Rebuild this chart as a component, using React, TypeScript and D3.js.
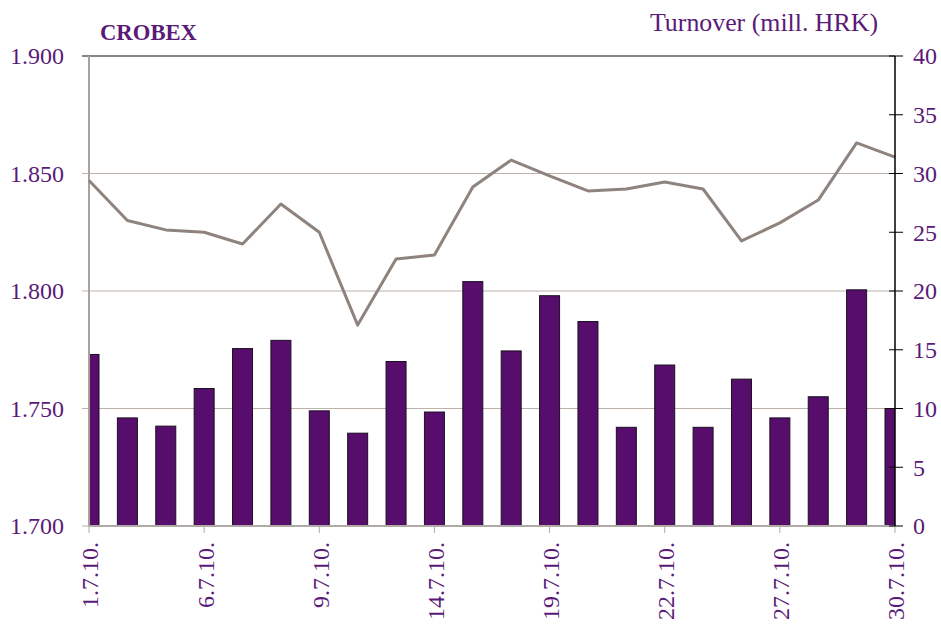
import React from "react";
import * as d3 from "d3";

const dates = ["1.7.10.","2.7.10.","5.7.10.","6.7.10.","7.7.10.","8.7.10.","9.7.10.","12.7.10.","13.7.10.","14.7.10.","15.7.10.","16.7.10.","19.7.10.","20.7.10.","21.7.10.","22.7.10.","23.7.10.","26.7.10.","27.7.10.","28.7.10.","29.7.10.","30.7.10."];
const crobex = [1.847,1.830,1.826,1.825,1.820,1.837,1.825,1.7855,1.8136,1.8153,1.8443,1.8557,1.849,1.8426,1.8434,1.8464,1.8434,1.8213,1.829,1.8387,1.863,1.857];
const turnover = [14.6,9.2,8.5,11.7,15.1,15.8,9.8,7.9,14.0,9.7,20.8,14.9,19.6,17.4,8.4,13.7,8.4,12.5,9.2,11.0,20.1,10.0];
const leftTicks = [1.7,1.75,1.8,1.85,1.9];
const rightTicks = [0,5,10,15,20,25,30,35,40];
const shownDates = ["1.7.10.","6.7.10.","9.7.10.","14.7.10.","19.7.10.","22.7.10.","27.7.10.","30.7.10."];

const PURPLE = "#5a1a78";
const FONT = "'Liberation Serif', 'DejaVu Serif', serif";

export default function App() {
  const L = 89, R = 895, T = 56, B = 526;
  const x = d3.scalePoint<string>().domain(dates).range([L, R]);
  const yL = d3.scaleLinear().domain([1.7, 1.9]).range([B, T]);
  const yR = d3.scaleLinear().domain([0, 40]).range([B, T]);
  const line = d3.line<number>().x((_, i) => x(dates[i])!).y(d => yL(d));
  const bw = 20;
  return (
    <svg width={941} height={624} style={{ position: "absolute", left: 0, top: 0, background: "#fff" }} fontFamily={FONT}>
      <defs>
        <clipPath id="plot"><rect x={L} y={T} width={R - L} height={B - T} /></clipPath>
      </defs>
      {leftTicks.map(t => (
        <g key={t}>
          <line x1={82} x2={R} y1={yL(t)} y2={yL(t)} stroke={t === 1.9 ? "#8a8683" : "#bcb2aa"} strokeWidth={t === 1.9 ? 2 : 1} />
          <text x={64} y={yL(t)} dy="0.35em" textAnchor="end" fontSize={24} fill={PURPLE}>{d3.format(".3f")(t)}</text>
        </g>
      ))}
      <g clipPath="url(#plot)">
        {turnover.map((v, i) => (
          <rect key={i} x={x(dates[i])! - bw / 2} y={yR(v)} width={bw} height={B - yR(v)} fill="#560d6b" stroke="#1a1020" strokeWidth={1} />
        ))}
      </g>
      <line x1={L} x2={L} y1={T} y2={B} stroke="#a9a19b" strokeWidth={2} />
      <line x1={L} x2={R} y1={B} y2={B} stroke="#b0aaa6" strokeWidth={2} />
      {shownDates.map(d => (
        <g key={d}>
          <line x1={x(d)!} x2={x(d)!} y1={B} y2={B + 7} stroke="#b0aaa6" strokeWidth={1} />
          <text transform={`translate(${x(d)! + 1},${B + 16}) rotate(-90)`} dy="0.35em" textAnchor="end" fontSize={24} fill={PURPLE}>{d}</text>
        </g>
      ))}
      <path d={line(crobex)!} fill="none" stroke="#8e837d" strokeWidth={3} strokeLinejoin="round" />
      <line x1={R} x2={R} y1={T} y2={B} stroke="#000" strokeWidth={1.5} />
      {rightTicks.map(t => (
        <g key={t}>
          <line x1={R - 6} x2={R + 8} y1={yR(t)} y2={yR(t)} stroke="#000" strokeWidth={1} />
          <text x={913} y={yR(t)} dy="0.35em" textAnchor="start" fontSize={24} fill={PURPLE}>{t}</text>
        </g>
      ))}
      <text x={100} y={40} fontSize={23} fontWeight="bold" fill={PURPLE} textLength={97} lengthAdjust="spacingAndGlyphs">CROBEX</text>
      <text x={650} y={31} fontSize={25} fill={PURPLE} textLength={228} lengthAdjust="spacingAndGlyphs">Turnover (mill. HRK)</text>
    </svg>
  );
}
